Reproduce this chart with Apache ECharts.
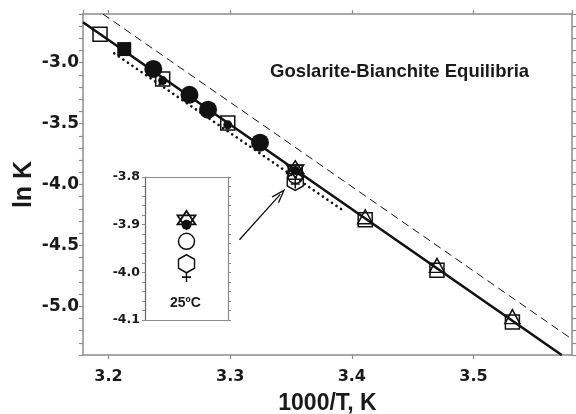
<!DOCTYPE html>
<html>
<head>
<meta charset="utf-8">
<script src="https://cdn.jsdelivr.net/npm/echarts@6/dist/echarts.min.js"></script>
<style>
  html, body { margin: 0; padding: 0; background: #fff; }
  #chart { width: 576px; height: 414px; }
</style>
</head>
<body>
<div id="chart"></div>
<script>
// main plot: 1000/T against ln K
const openSquares = [[3.193, -2.766], [3.2445, -3.133], [3.298, -3.494], [3.3535, -3.90], [3.411, -4.29], [3.470, -4.705], [3.532, -5.13]];
const filledSquares = [[3.2129, -2.888]];
const filledCircles = [[3.2368, -3.051], [3.2665, -3.263], [3.2818, -3.386], [3.3245, -3.657]];
const smallDots = [[3.2445, -3.147], [3.298, -3.51], [3.3535, -3.885]];
const openTriangles = [[3.411, -4.265], [3.470, -4.664], [3.532, -5.085]];
const stars = [[3.3535, -3.875]];
const openCircles = [[3.3535, -3.93]];
const hexagons = [[3.3535, -3.975]];
const crosses = [[3.3535, -3.995]];
const fitLine = [[3.179, -2.668], [3.5725, -5.40]];
const dashedLine = [[3.1953, -2.6], [3.581, -5.27]];
const dottedLine = [[3.2047, -2.923], [3.3937, -4.219]];
const arrowFrom = [3.3076, -4.454];
const arrowTo = [3.3412, -4.081];

// inset: the 25 C values
const insetStar = [[0.5, -3.89]];
const insetDot = [[0.5, -3.90]];
const insetCircle = [[0.5, -3.935]];
const insetHexagon = [[0.5, -3.982]];
const insetCross = [[0.5, -4.010]];

const STAR = 'path://M0,-10 L8.66,5 L-8.66,5 Z M0,10 L8.66,-5 L-8.66,-5 Z';
const HEX = 'path://M0,-10 L8.66,-5 L8.66,5 L0,10 L-8.66,5 L-8.66,-5 Z';
const CROSS = 'path://M-5,0 L5,0 M0,-5 L0,5';
const CHEVRON = 'path://M5,0 L10,10 L8.6,10 L5,2.8 L1.4,10 L0,10 Z';

const ink = '#111';
const frame = '#8c8c8c';
const openStyle = { color: 'rgba(0,0,0,0)', borderColor: ink, borderWidth: 1.5, opacity: 1 };
const solidStyle = { color: ink, opacity: 1 };
const numFont = { fontFamily: 'DejaVu Sans', fontWeight: 'bold', color: '#1a1a1a' };
const nameFont = { fontFamily: 'Liberation Sans', fontWeight: 'bold', color: '#1a1a1a' };

const chart = echarts.init(document.getElementById('chart'), null, { renderer: 'canvas' });

function scatter(data, symbol, size, style, xi, yi) {
  return {
    type: 'scatter', data: data, symbol: symbol, symbolSize: size,
    xAxisIndex: xi || 0, yAxisIndex: yi || 0,
    itemStyle: style, silent: true
  };
}

const option = {
  animation: false,
  title: {
    text: 'Goslarite-Bianchite Equilibria',
    left: 270, top: 62, padding: 0,
    textStyle: { fontFamily: 'Liberation Sans', fontWeight: 'bold', fontSize: 18.5, color: '#1a1a1a' }
  },
  graphic: [{
    type: 'text', left: 170, top: 296,
    style: { text: '25ºC', font: 'bold 14px "Liberation Sans"', fill: '#1a1a1a' }
  }],
  grid: [
    { left: 83, top: 14, right: 4, bottom: 59, containLabel: false, outerBoundsMode: 'none' },
    { left: 145, top: 177, width: 83, height: 143, containLabel: false, outerBoundsMode: 'none' }
  ],
  xAxis: [
    {
      gridIndex: 0, type: 'value', min: 3.179, max: 3.581, position: 'bottom',
      splitLine: { show: false },
      axisLine: { onZero: false, lineStyle: { color: frame, width: 1.5 } },
      axisTick: { inside: false, length: 4, lineStyle: { color: frame, width: 1.2 } },
      axisLabel: Object.assign({
        margin: 14, fontSize: 16, showMinLabel: false, showMaxLabel: false,
        formatter: v => Math.abs(v * 10 - Math.round(v * 10)) < 1e-6 ? v.toFixed(1) : ''
      }, numFont),
      name: '1000/T, K', nameLocation: 'middle', nameGap: 37, nameMoveOverlap: false,
      nameTextStyle: Object.assign({ fontSize: 23 }, nameFont)
    },
    {
      gridIndex: 0, type: 'value', min: 3.179, max: 3.581, position: 'top',
      splitLine: { show: false },
      axisLine: { onZero: false, lineStyle: { color: frame, width: 1.5 } },
      axisTick: { inside: false, length: 4, lineStyle: { color: frame, width: 1.2 } },
      axisLabel: { show: false }
    },
    {
      gridIndex: 1, type: 'value', min: 0, max: 1, position: 'bottom',
      splitLine: { show: false },
      axisLine: { onZero: false, lineStyle: { color: frame, width: 1.2 } },
      axisTick: { show: false }, axisLabel: { show: false }
    },
    {
      gridIndex: 1, type: 'value', min: 0, max: 1, position: 'top',
      splitLine: { show: false },
      axisLine: { onZero: false, lineStyle: { color: frame, width: 1.2 } },
      axisTick: { show: false }, axisLabel: { show: false }
    }
  ],
  yAxis: [
    {
      gridIndex: 0, type: 'value', min: -5.4, max: -2.6, interval: 0.1, position: 'left',
      splitLine: { show: false },
      axisLine: { onZero: false, lineStyle: { color: frame, width: 1.5 } },
      axisTick: { inside: false, length: 4, lineStyle: { color: frame, width: 1.2 } },
      axisLabel: Object.assign({
        margin: 4, fontSize: 17,
        formatter: v => { const t = Math.round(v * 10); return t % 5 === 0 ? (t / 10).toFixed(1) : ''; }
      }, numFont),
      name: 'ln K', nameLocation: 'middle', nameGap: 46, nameRotate: 90, nameMoveOverlap: false,
      nameTextStyle: Object.assign({ fontSize: 25 }, nameFont)
    },
    {
      gridIndex: 0, type: 'value', min: -5.4, max: -2.6, interval: 0.1, position: 'right',
      splitLine: { show: false },
      axisLine: { onZero: false, lineStyle: { color: frame, width: 1.5 } },
      axisTick: { inside: false, length: 4, lineStyle: { color: frame, width: 1.2 } },
      axisLabel: { show: false }
    },
    {
      gridIndex: 1, type: 'value', min: -4.1, max: -3.8, interval: 0.1, position: 'left',
      splitLine: { show: false },
      axisLine: { onZero: false, lineStyle: { color: '#666', width: 1.2 } },
      axisTick: { inside: false, length: 3, lineStyle: { color: frame } },
      minorTick: { show: true, splitNumber: 5, length: 3, lineStyle: { color: frame } },
      axisLabel: Object.assign({ margin: 5, fontSize: 12.5, formatter: v => v.toFixed(1) }, numFont)
    },
    {
      gridIndex: 1, type: 'value', min: -4.1, max: -3.8, interval: 0.1, position: 'right',
      splitLine: { show: false },
      axisLine: { onZero: false, lineStyle: { color: frame, width: 1.2 } },
      axisTick: { inside: false, length: 3, lineStyle: { color: frame } },
      minorTick: { show: true, splitNumber: 5, length: 3, lineStyle: { color: frame } },
      axisLabel: { show: false }
    }
  ],
  series: [
    {
      type: 'line', data: dashedLine, symbol: 'none', silent: true,
      lineStyle: { color: ink, width: 1, type: [8, 5] }
    },
    {
      type: 'line', data: dottedLine, symbol: 'none', silent: true,
      lineStyle: { color: ink, width: 2.6, type: [0.1, 5.4], cap: 'round' }
    },
    {
      type: 'line', data: fitLine, symbol: 'none', silent: true,
      lineStyle: { color: ink, width: 2.6 },
      markLine: {
        silent: true, symbol: ['none', CHEVRON], symbolSize: [10, 15],
        label: { show: false },
        lineStyle: { color: ink, width: 1.3, type: 'solid' },
        data: [[{ coord: arrowFrom }, { coord: arrowTo }]]
      }
    },
    scatter(openSquares, 'rect', 14, openStyle),
    scatter(filledSquares, 'rect', 14, solidStyle),
    scatter(filledCircles, 'circle', 18, solidStyle),
    scatter(smallDots, 'circle', 9, solidStyle),
    scatter(openTriangles, 'triangle', [15, 14], openStyle),
    scatter(stars, STAR, 17, openStyle),
    scatter(openCircles, 'circle', 15, openStyle),
    scatter(hexagons, HEX, [16, 18], openStyle),
    scatter(crosses, CROSS, 9, openStyle),
    scatter(insetStar, STAR, 18, { color: 'rgba(0,0,0,0)', borderColor: ink, borderWidth: 1.8, opacity: 1 }, 2, 2),
    scatter(insetDot, 'circle', 10, solidStyle, 2, 2),
    scatter(insetCircle, 'circle', 16, openStyle, 2, 2),
    scatter(insetHexagon, HEX, [16, 18], openStyle, 2, 2),
    scatter(insetCross, CROSS, [9, 10], openStyle, 2, 2)
  ]
};

chart.setOption(option);
</script>
</body>
</html>
